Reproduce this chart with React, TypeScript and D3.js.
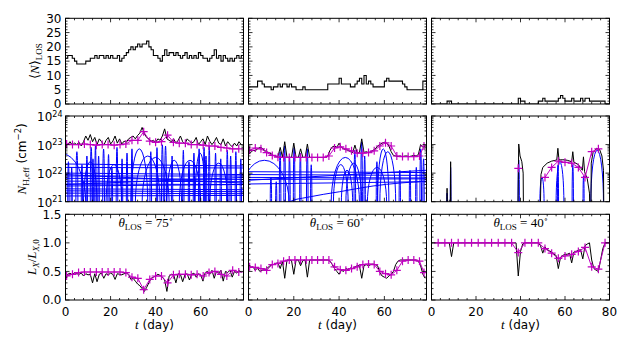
import React from "react";
import * as d3 from "d3";

// ---------------- data ----------------
const dayTicks = [0, 20, 40, 60, 80];
const nlosTicks = [0, 5, 10, 15, 20, 25, 30];
const nhTickExps = [21, 22, 23, 24];
const lxTicks = [0, 0.5, 1.0, 1.5];
const thetaLos = [75, 60, 40];

// <N>_LOS, one value per day
const nlosCol1 = [16,17,17,16,15,14,14,14,14,15, 15,16,16,17,16,17,17,16,17,16, 17,16,16,17,15,16,17,18,19,20, 19,20,21,20,21,21,22,20,19,17, 17,16,15,17,19,17,18,18,17,18, 17,16,17,18,16,17,16,17,16,18, 17,16,16,15,16,17,19,16,17,15, 17,16,15,16,15,16,17,16,17];
const nlosCol2 = [6,6,6,6,8,8,7,6,6,6, 5,6,6,7,6,7,7,6,7,6, 6,5,5,5,6,5,5,5,5,5, 5,5,5,5,5,7,7,7,7,7, 9,7,7,7,7,6,6,7,8,9, 7,10,7,8,7,6,6,6,6,6, 8,9,8,8,8,8,8,8,7,6, 5,5,5,5,5,5,5,8,8];
const nlosCol3 = [0,0,0,0,0,0,0,1,1,0, 0,0,0,0,0,0,0,0,0,0, 0,0,0,0,0,0,0,0,0,0, 0,0,0,0,0,0,0,0,0,2, 1,1,0,0,0,0,0,0,1,1, 2,1,1,1,1,1,1,2,3,2, 1,1,1,2,1,1,1,2,1,2, 2,1,1,1,1,1,1,1,0,0, 0];

// log10 N_H,eff, one value per day (col 1, 2); day/value pairs (col 3, 19 = no absorber)
const nhCol1 = [23.05,23.0,23.1,22.98,23.05,23.0,23.08,22.95,23.1,23.3, 23.15,23.35,23.1,23.25,23.0,23.2,23.1,22.98,23.15,23.25, 23.02,23.12,23.3,23.05,23.2,23.02,23.12,23.08,23.2,23.25, 23.3,23.2,23.32,23.4,23.6,23.38,23.25,23.2,23.12,23.15, 23.08,23.2,23.15,23.3,23.55,23.2,23.15,23.1,23.2,23.05, 23.15,23.3,23.1,23.02,23.2,23.12,23.05,23.1,23.25,23.0, 23.1,23.2,23.0,23.3,23.12,23.0,23.1,23.25,23.05,23.0, 23.2,22.95,23.1,23.0,22.92,23.05,22.95,23.1,23.0];
const nhCol2 = [22.75,22.72,22.8,22.78,22.85,22.9,22.88,22.8,22.75,22.72, 22.68,22.62,22.6,22.58,22.9,22.56,23.1,22.55,22.55,22.55, 23.05,22.55,22.55,22.85,22.55,22.55,23.02,22.55,22.55,22.55, 22.55,22.55,22.55,22.55,22.55,22.6,22.8,22.92,22.95,22.9, 23.05,22.9,22.85,22.82,22.8,22.75,22.72,22.98,22.7,22.72, 23.2,22.72,22.75,22.72,22.75,22.8,22.85,22.95,23.0,23.05, 23.08,23.05,22.95,22.75,22.62,22.6,22.58,22.6,22.58,22.6, 22.6,22.58,22.6,22.62,22.6,22.65,23.0,22.9,22.95];
const nhDaysCol3 = [0,6.7,7.0,7.3, 8.3,8.6,8.9, 38.6,39.2,39.8,40.6,41.2,41.5, 48.5,49.2,50.0,52.0,54.0, 56.3,56.8,57.3, 59.0,61.0,63.0,63.5,64.0, 66.0,67.8,68.3,68.8, 70.0,71.0,71.5, 71.8,72.6,74.2,75.6,76.6,77.3,77.6,80];
const nhCol3 = [19,19,21.47,19, 19,22.4,19, 19,23.02,22.6,22.4,22.0,19, 19,21.95,22.2,22.35,22.42, 22.46,22.87,22.46, 22.47,22.45,22.4,22.75,22.38, 22.3,22.1,22.57,22.05, 21.8,21.3,19, 22.35,22.72,22.87,22.82,22.6,22.1,19,19];

// L_X / L_X,0, one value per day
const lxCol1 = [0.40,0.45,0.47,0.44,0.48,0.46,0.45,0.47,0.42,0.46, 0.44,0.45,0.30,0.46,0.32,0.45,0.47,0.38,0.46,0.44, 0.47,0.45,0.36,0.46,0.45,0.44,0.46,0.47,0.45,0.36, 0.38,0.33,0.28,0.25,0.20,0.15,0.22,0.30,0.38,0.40, 0.42,0.45,0.43,0.40,0.35,0.15,0.42,0.45,0.44,0.30, 0.46,0.45,0.32,0.44,0.46,0.35,0.45,0.47,0.40,0.46, 0.44,0.33,0.48,0.50,0.45,0.52,0.38,0.50,0.47,0.52, 0.33,0.50,0.48,0.52,0.40,0.50,0.47,0.52,0.48];
const lxCol2 = [0.60,0.57,0.58,0.52,0.56,0.50,0.52,0.53,0.55,0.58, 0.62,0.62,0.64,0.65,0.55,0.68,0.38,0.70,0.70,0.69, 0.45,0.70,0.70,0.60,0.69,0.70,0.40,0.70,0.70,0.70, 0.70,0.70,0.70,0.70,0.70,0.70,0.68,0.62,0.55,0.50, 0.45,0.52,0.50,0.55,0.53,0.56,0.55,0.58,0.60,0.60, 0.38,0.60,0.62,0.60,0.62,0.63,0.62,0.60,0.48,0.42, 0.40,0.38,0.42,0.45,0.50,0.62,0.68,0.70,0.70,0.70, 0.70,0.70,0.70,0.70,0.70,0.68,0.60,0.45,0.38];
const lxCol3 = [1,1,1,1,1,1,1,1,1,0.76, 1,1,1,1,1,1,1,1,1,1, 1,1,1,1,1,1,1,1,1,1, 1,1,1,1,1,1,1,1,1,0.42, 0.85,0.98,1,1,1,1,1,1,1,0.95, 0.82,0.93,0.88,0.86,0.84,0.80,0.78,0.55,0.75,0.78, 0.80,0.80,0.82,0.65,0.84,0.85,0.87,0.88,0.72,0.95, 0.98,1.0,0.70,0.55,0.52,0.50,0.70,0.90,1,1, 1];

// model fits (magenta)
const fitDaysCol1 = [0.5,3.1,5.8,8.4,11.0,13.7,16.3,18.9,21.6,24.2,26.8,29.5,32.1,34.7,37.4,40.0,42.6,45.3,47.9,50.5,53.2,55.8,58.4,61.1,63.7,66.3,69.0,71.6,74.2,76.9];
const fitNhCol1 = [23.02,23.0,23.0,23.02,23.0,22.98,23.0,23.0,22.98,23.0,23.02,23.15,23.15,23.45,23.12,23.08,23.1,23.33,23.08,23.05,23.05,23.0,23.0,22.98,22.95,22.95,22.9,22.88,22.85,22.85];
const fitLxCol1 = [0.42,0.45,0.48,0.49,0.49,0.49,0.49,0.49,0.49,0.49,0.48,0.40,0.38,0.18,0.36,0.42,0.42,0.30,0.44,0.45,0.45,0.44,0.45,0.42,0.48,0.50,0.45,0.42,0.52,0.49];
const fitDaysCol2 = [0.5,3.0,5.5,8.0,10.5,13.0,15.5,18.0,20.5,23.0,25.5,28.0,30.5,33.0,35.5,38.0,40.5,43.0,45.5,48.0,50.5,53.0,55.5,58.0,60.5,63.0,65.5,68.0,70.5,73.0,75.5,77.5];
const fitNhCol2 = [22.8,22.88,22.85,22.72,22.62,22.56,22.55,22.55,22.55,22.55,22.55,22.55,22.55,22.55,22.6,22.88,22.92,22.85,22.78,22.7,22.7,22.72,22.78,22.95,23.06,22.95,22.6,22.58,22.58,22.58,22.6,22.95];
const fitLxCol2 = [0.58,0.57,0.55,0.52,0.62,0.64,0.68,0.70,0.70,0.70,0.70,0.70,0.70,0.70,0.70,0.58,0.53,0.52,0.55,0.58,0.62,0.63,0.62,0.50,0.46,0.44,0.52,0.68,0.70,0.70,0.68,0.48];
const fitDaysCol3 = [3,6,9,12,15,18,21,24,27,30,33,36,39,42,45,48,51,54,57,60,63,66,69,72,75,78];
const fitNhCol3 = [null,null,null,null,null,null,null,null,null,null,null,null,22.17,null,null,null,21.85,22.2,22.42,22.38,22.35,22.2,21.85,22.75,22.85,null];
const fitLxCol3 = [1,1,1,1,1,1,1,1,1,1,1,1,0.83,1,1,1,0.9,0.82,0.73,0.77,0.8,0.85,0.92,0.58,0.54,1];

// individual clouds (blue): [start day, end day, log10 peak]
const cloudArcsCol1 = [[1.0,1.6,22.4],[2.5,3.0,22.2],[4.6,5.5,22.75],[7.0,7.6,22.3],[9.2,9.8,22.6],[11.0,11.8,22.9],[11.9,12.5,22.5],[13.0,13.6,22.95],[14.4,15.0,22.6],[16.5,17.3,22.85],[18.8,19.4,22.65],[20.3,20.9,22.2],[22.5,23.2,22.9],[24.8,25.4,22.5],[27.0,27.6,22.7],[29.2,29.8,22.85],[37.5,38.2,22.75],[40.3,40.9,22.9],[42.6,43.4,23.0],[44.0,44.8,22.95],[47.0,47.6,22.6],[52.0,52.6,22.8],[54.5,55.1,22.4],[56.7,57.3,22.7],[59.0,59.6,22.85],[61.2,61.8,22.9],[62.0,62.7,22.6],[63.5,64.1,22.95],[66.3,66.9,22.7],[68.6,69.2,22.5],[71.5,72.1,22.8],[73.0,73.6,22.6],[75.3,75.9,22.75],[77.5,78.1,22.5],[-12,9,22.68],[29,36.5,22.85],[31,42,22.6],[34,46,22.55],[45,51.5,22.45],[50.5,60,22.45],[57.5,62,22.7],[64,72,22.35],[8,14,22.4],[18,25,22.3]];
const cloudArcsCol2 = [[-4,18,22.45],[36.5,49,22.55],[37.5,44,22.3],[43,50,22.35],[41,46,22.1],[52.5,61,22.2],[57,62,22.85],[58,65,22.75],[9.6,10.2,21.85],[12.0,12.5,21.7],[13.6,14.3,22.75],[15.6,16.3,22.95],[17.8,18.4,22.6],[19.8,20.5,22.9],[22.6,23.2,22.7],[25.6,26.3,22.85],[27.4,28.0,22.3],[46.6,47.3,22.8],[49.6,50.3,23.1],[51.0,51.6,22.6],[56.4,57.0,22.4],[66.5,67.1,22.1],[71.0,71.6,22.1],[73.8,74.4,22.2],[75.7,76.4,22.85],[77.0,77.6,22.5]];
const cloudArcsCol3 = [[6.85,7.15,21.3],[8.45,8.75,22.2],[38.9,39.5,22.46],[48.7,50.6,21.85],[56.0,59.5,22.38],[56.6,57.1,22.3],[63.2,63.8,22.3],[68.1,68.6,21.9],[71.6,77.3,22.8]];
// long-lived clouds: log10 N at first and last day
const flatCloudsCol1 = [[22.32,22.25],[22.2,22.18],[22.0,21.95],[21.9,21.9],[21.82,21.78],[21.72,21.7],[21.62,21.6],[21.55,21.6],[21.45,21.42],[21.38,21.35],[21.3,21.28],[21.2,21.22],[21.95,21.65],[21.6,21.85]];
const flatCloudsCol2 = [[22.05,22.02],[21.95,21.92],[21.85,21.83],[21.78,21.8],[21.62,21.7],[21.75,22.1]];
const flatCloudsCol3: number[][] = [];
const risingCloudDaysCol2 = [18.3,18.8,25.7,40.3,55,78.6];
const risingCloudCol2 = [20.5,21.02,21.15,21.35,21.55,21.72];

// ---------------- layout ----------------
const COL_LEFT = [65.5, 248.5, 431.5];
const COL_W = 178;
const ROW_TOP = [18.3, 116, 214.3];
const ROW_H = 85.7;
const X_MAX = [79, 78.6, 80];
const THETA_DAY = [35.5, 39, 40];
const MAG = "#c000c0";
const SERIF = "'Liberation Serif', 'DejaVu Serif', serif";

type P = [number, number];

export default function App() {
  const rowBottom = ROW_TOP.map((t) => t + ROW_H);
  const xs = COL_LEFT.map((l, c) => d3.scaleLinear().domain([0, X_MAX[c]]).range([l, l + COL_W]));
  const yN = d3.scaleLinear().domain([0, 30]).range([rowBottom[0], ROW_TOP[0]]);
  const yH = d3.scaleLog().domain([1e21, 1e24]).range([rowBottom[1], ROW_TOP[1]]);
  const yL = d3.scaleLinear().domain([0, 1.5]).range([rowBottom[2], ROW_TOP[2]]);

  const columns = [
    { nlos: nlosCol1, nh: nhCol1.map((v, i) => [i, v] as P), lx: lxCol1, fd: fitDaysCol1, fn: fitNhCol1, fl: fitLxCol1, arcs: cloudArcsCol1, flats: flatCloudsCol1, rising: null as null | P[] },
    { nlos: nlosCol2, nh: nhCol2.map((v, i) => [i, v] as P), lx: lxCol2, fd: fitDaysCol2, fn: fitNhCol2, fl: fitLxCol2, arcs: cloudArcsCol2, flats: flatCloudsCol2, rising: risingCloudDaysCol2.map((d, i) => [d, risingCloudCol2[i]] as P) },
    { nlos: nlosCol3, nh: nhDaysCol3.map((d, i) => [d, nhCol3[i]] as P), lx: lxCol3, fd: fitDaysCol3, fn: fitNhCol3, fl: fitLxCol3, arcs: cloudArcsCol3, flats: flatCloudsCol3, rising: null as null | P[] },
  ];

  const plus = (cx: number, cy: number) => `M${cx - 4},${cy}h8M${cx},${cy - 4}v8`;

  const ticks = (c: number, r: number, yMajor: number[], yMinor: number[]) => {
    const x = xs[c];
    const x0 = COL_LEFT[c], x1 = COL_LEFT[c] + COL_W;
    const y0 = ROW_TOP[r], y1 = rowBottom[r];
    const xMaj = d3.range(0, X_MAX[c] + 1e-6, 20).map((t) => x(t));
    const xMin = d3.range(0, X_MAX[c] + 1e-6, 4).filter((t) => t % 20 !== 0).map((t) => x(t));
    let d = "";
    xMaj.forEach((px) => (d += `M${px},${y1}v-4M${px},${y0}v4`));
    xMin.forEach((px) => (d += `M${px},${y1}v-2M${px},${y0}v2`));
    yMajor.forEach((py) => (d += `M${x0},${py}h4M${x1},${py}h-4`));
    yMinor.forEach((py) => (d += `M${x0},${py}h2M${x1},${py}h-2`));
    return <path d={d} stroke="#000" strokeWidth={0.8} fill="none" />;
  };

  const nMajor = nlosTicks.map((v) => yN(v));
  const nMinor = d3.range(0, 30.01, 1).filter((v) => v % 5 !== 0).map((v) => yN(v));
  const hMajor = nhTickExps.map((e) => yH(10 ** e));
  const hMinor: number[] = [];
  nhTickExps.slice(0, 3).forEach((e) => d3.range(2, 10).forEach((k) => hMinor.push(yH(k * 10 ** e))));
  const lMajor = lxTicks.map((v) => yL(v));
  const lMinor = d3.range(0, 15.01, 1).filter((v) => v % 5 !== 0).map((v) => yL(v / 10));

  return (
    <svg width={630} height={350} style={{ position: "absolute", left: 0, top: 0, background: "#fff" }} fontFamily="'DejaVu Sans', sans-serif">
      <defs>
        {[0, 1, 2].map((r) =>
          [0, 1, 2].map((c) => (
            <clipPath id={`cp${r}${c}`} key={`cp${r}${c}`}>
              <rect x={COL_LEFT[c]} y={ROW_TOP[r]} width={COL_W} height={ROW_H} />
            </clipPath>
          ))
        )}
      </defs>

      {columns.map((col, c) => {
        const x = xs[c];
        const xmax = X_MAX[c];
        // row 1
        const stepPts: P[] = col.nlos.map((v, i) => [i, v] as P);
        stepPts.push([xmax, col.nlos[col.nlos.length - 1]]);
        const stepLine = d3.line<P>().x((d) => x(d[0])).y((d) => yN(d[1])).curve(d3.curveStepAfter);
        // row 2
        const hLine = d3.line<P>().x((d) => x(d[0])).y((d) => yH(10 ** d[1]));
        const smoothH = d3.line<P>().x((d) => x(d[0])).y((d) => yH(10 ** d[1])).curve(d3.curveMonotoneX);
        const yb = rowBottom[1] + 2;
        const arcD = col.arcs
          .map(([s, e, p]) => {
            const x0 = x(s), x1 = x(e);
            const ry = yb - yH(10 ** p);
            return `M${x0},${yb}A${(x1 - x0) / 2},${ry} 0 0 1 ${x1},${yb}`;
          })
          .join("");
        const flatD = col.flats.map(([a, b]) => `M${x(0)},${yH(10 ** a)}L${x(xmax)},${yH(10 ** b)}`).join("");
        const fitH: [number, number | null][] = col.fd.map((d, i) => [d, col.fn[i]]);
        const fitHLine = d3
          .line<[number, number | null]>()
          .defined((d) => d[1] != null)
          .x((d) => x(d[0]))
          .y((d) => yH(10 ** (d[1] as number)));
        // row 3
        const lPts: P[] = col.lx.map((v, i) => [i, v] as P);
        const lLine = d3.line<P>().x((d) => x(d[0])).y((d) => yL(d[1]));
        const fitL: P[] = col.fd.map((d, i) => [d, col.fl[i]] as P);

        return (
          <g key={c}>
            {/* row 1 */}
            <g clipPath={`url(#cp0${c})`}>
              <path d={stepLine(stepPts) || ""} fill="none" stroke="#000" strokeWidth={1.1} />
            </g>
            {/* row 2 */}
            <g clipPath={`url(#cp1${c})`}>
              <path d={flatD} fill="none" stroke="#0000ff" strokeWidth={1} />
              <path d={arcD} fill="none" stroke="#0000ff" strokeWidth={1} />
              {col.rising && <path d={smoothH(col.rising) || ""} fill="none" stroke="#0000ff" strokeWidth={1} />}
              <path d={hLine(col.nh) || ""} fill="none" stroke="#000" strokeWidth={1} />
              <path d={fitHLine(fitH) || ""} fill="none" stroke={MAG} strokeWidth={1} />
              <path
                d={fitH.filter((d) => d[1] != null).map((d) => plus(x(d[0]), yH(10 ** (d[1] as number)))).join("")}
                fill="none"
                stroke={MAG}
                strokeWidth={1.2}
              />
            </g>
            {/* row 3 */}
            <g clipPath={`url(#cp2${c})`}>
              <path d={lLine(lPts) || ""} fill="none" stroke="#000" strokeWidth={1} />
              <path d={lLine(fitL) || ""} fill="none" stroke={MAG} strokeWidth={1} />
              <path d={fitL.map((d) => plus(x(d[0]), yL(d[1]))).join("")} fill="none" stroke={MAG} strokeWidth={1.2} />
            </g>
            <text x={x(THETA_DAY[c])} y={yL(1.28)} textAnchor="middle" fontFamily={SERIF} fontSize={13}>
              <tspan fontStyle="italic">θ</tspan>
              <tspan fontSize={9} dy={3}>LOS</tspan>
              <tspan dy={-3}>{` = ${thetaLos[c]}`}</tspan>
              <tspan fontSize={8} dy={-5}>∘</tspan>
            </text>

            {/* frames and ticks */}
            {[0, 1, 2].map((r) => (
              <g key={r}>
                <rect x={COL_LEFT[c]} y={ROW_TOP[r]} width={COL_W} height={ROW_H} fill="none" stroke="#000" strokeWidth={1} />
                {r === 0 && ticks(c, r, nMajor, nMinor)}
                {r === 1 && ticks(c, r, hMajor, hMinor)}
                {r === 2 && ticks(c, r, lMajor, lMinor)}
              </g>
            ))}

            {/* x tick labels */}
            {dayTicks
              .filter((t) => t <= xmax)
              .map((t) => (
                <text key={t} x={x(t)} y={rowBottom[2] + 16} textAnchor="middle" fontSize={12}>
                  {t}
                </text>
              ))}
            <text x={COL_LEFT[c] + COL_W / 2} y={329} textAnchor="middle" fontSize={12}>
              <tspan fontFamily={SERIF} fontStyle="italic" fontSize={13}>t</tspan>
              <tspan> (day)</tspan>
            </text>
          </g>
        );
      })}

      {/* y tick labels, column 1 */}
      {nlosTicks.map((v) => (
        <text key={`n${v}`} x={COL_LEFT[0] - 4} y={yN(v) + 4.2} textAnchor="end" fontSize={12}>
          {v}
        </text>
      ))}
      {nhTickExps.map((e) => (
        <text key={`h${e}`} x={COL_LEFT[0] - 3} y={yH(10 ** e) + 5} textAnchor="end" fontSize={12}>
          10
          <tspan dy={-4.5} fontSize={8}>{e}</tspan>
        </text>
      ))}
      {lxTicks.map((v) => (
        <text key={`l${v}`} x={COL_LEFT[0] - 4} y={yL(v) + 4.2} textAnchor="end" fontSize={12}>
          {v.toFixed(1)}
        </text>
      ))}

      {/* y axis labels */}
      <text transform={`translate(39,${ROW_TOP[0] + ROW_H / 2}) rotate(-90)`} textAnchor="middle" fontFamily={SERIF} fontSize={13}>
        <tspan>⟨</tspan>
        <tspan fontStyle="italic">N</tspan>
        <tspan>⟩</tspan>
        <tspan fontSize={9} dy={3}>LOS</tspan>
      </text>
      <text transform={`translate(26,${ROW_TOP[1] + ROW_H / 2}) rotate(-90)`} textAnchor="middle" fontSize={12}>
        <tspan fontFamily={SERIF} fontStyle="italic" fontSize={13}>N</tspan>
        <tspan fontFamily={SERIF} fontSize={9} dy={3}>H,eff</tspan>
        <tspan dy={-3}> (cm</tspan>
        <tspan fontSize={8.5} dy={-5}>−2</tspan>
        <tspan dy={5}>)</tspan>
      </text>
      <text transform={`translate(36,${ROW_TOP[2] + ROW_H / 2}) rotate(-90)`} textAnchor="middle" fontFamily={SERIF} fontSize={13}>
        <tspan fontStyle="italic">L</tspan>
        <tspan fontStyle="italic" fontSize={9} dy={3}>X</tspan>
        <tspan dy={-3}>/</tspan>
        <tspan fontStyle="italic">L</tspan>
        <tspan fontSize={9} dy={3}>
          <tspan fontStyle="italic">X</tspan>,0
        </tspan>
      </text>
    </svg>
  );
}
